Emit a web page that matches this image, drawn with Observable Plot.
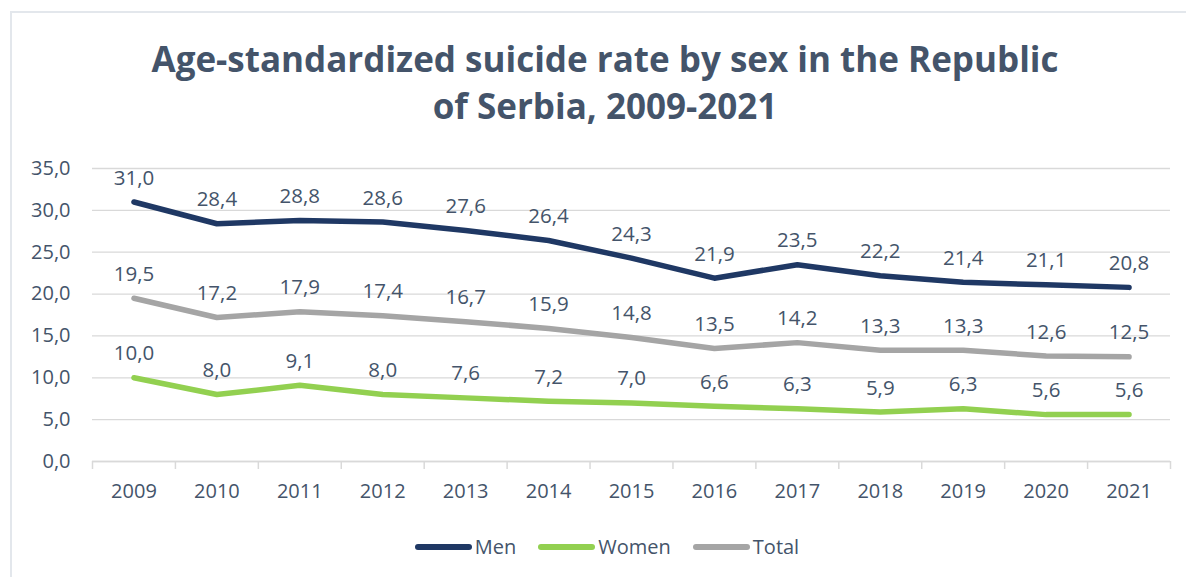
<!DOCTYPE html>
<html>
<head>
<meta charset="utf-8">
<script src="https://cdn.jsdelivr.net/npm/d3@7"></script>
<script src="https://cdn.jsdelivr.net/npm/@observablehq/plot@0.6"></script>
<style>
  html, body { margin: 0; padding: 0; background: #fff; }
  body { width: 1186px; height: 577px; position: relative; overflow: hidden; font-family: "Open Sans", sans-serif; color: #44546a; }
  #frame { position: absolute; left: 10px; top: 11px; width: 1200px; height: 600px; border-left: 2px solid #e3e7ec; border-top: 2px solid #e3e7ec; }
  #title { position: absolute; left: 0; top: 35px; width: 1210px; text-align: center; font-weight: 700; font-size: 35px; line-height: 47px; color: #44546a; }
  #chart { position: absolute; left: 0; top: 140px; }
  #legend { position: absolute; top: 533px; left: 0; width: 1214px; display: flex; justify-content: center; gap: 22px; font-size: 20px; }
  .item { display: flex; align-items: center; }
  .sw { width: 57px; height: 6px; border-radius: 3px; margin-right: 3px; }
</style>
</head>
<body>
<div id="frame"></div>
<div id="title">Age-standardized suicide rate by sex in the Republic<br>of Serbia, 2009-2021</div>
<div id="chart"></div>
<div id="legend"></div>
<script>
const years = [2009, 2010, 2011, 2012, 2013, 2014, 2015, 2016, 2017, 2018, 2019, 2020, 2021];
const men   = [31.0, 28.4, 28.8, 28.6, 27.6, 26.4, 24.3, 21.9, 23.5, 22.2, 21.4, 21.1, 20.8];
const women = [10.0, 8.0, 9.1, 8.0, 7.6, 7.2, 7.0, 6.6, 6.3, 5.9, 6.3, 5.6, 5.6];
const total = [19.5, 17.2, 17.9, 17.4, 16.7, 15.9, 14.8, 13.5, 14.2, 13.3, 13.3, 12.6, 12.5];
const seriesNames = ["Men", "Women", "Total"];
const seriesColors = ["#1f3864", "#92d050", "#a5a5a5"];
const yTicks = [0, 5, 10, 15, 20, 25, 30, 35];

const seriesValues = [men, women, total];
const data = [];
seriesNames.forEach((name, i) => {
  years.forEach((yr, j) => data.push({series: name, year: yr, value: seriesValues[i][j]}));
});
const fmt = v => v.toFixed(1).replace(".", ",");
const boundaries = years.map(y => y - 0.5).concat([years[years.length - 1] + 0.5]);

const chart = Plot.plot({
  width: 1186,
  height: 372,
  marginLeft: 92,
  marginRight: 16,
  marginTop: 28,
  marginBottom: 51,
  style: {fontFamily: "Open Sans, sans-serif", fontSize: "20px", color: "#44546a", background: "transparent"},
  x: {type: "linear", domain: [years[0] - 0.5, years[years.length - 1] + 0.5], label: null},
  y: {domain: [0, 35], label: null},
  color: {domain: seriesNames, range: seriesColors},
  marks: [
    Plot.gridY(yTicks, {stroke: "#d9d9d9", strokeOpacity: 1, strokeWidth: 1.3}),
    Plot.ruleY([0], {stroke: "#d9d9d9", strokeWidth: 1.5}),
    Plot.axisX(boundaries, {tickSize: 8, tickFormat: () => "", stroke: "#d9d9d9", strokeWidth: 1.5, label: null}),
    Plot.axisX(years, {tickSize: 0, tickPadding: 22, tickFormat: d => String(d), fill: "#44546a", fontSize: 20, label: null}),
    Plot.axisY(yTicks, {tickSize: 0, tickPadding: 22, tickFormat: fmt, fill: "#44546a", fontSize: 20, label: null}),
    Plot.line(data, {x: "year", y: "value", z: "series", stroke: "series", strokeWidth: 5.5, strokeLinecap: "round", strokeLinejoin: "round"}),
    Plot.text(data, {x: "year", y: "value", text: d => fmt(d.value), dy: -24, fill: "#44546a", fontSize: 20.5})
  ]
});
document.getElementById("chart").appendChild(chart);

const legend = document.getElementById("legend");
seriesNames.forEach((name, i) => {
  const it = document.createElement("div");
  it.className = "item";
  const sw = document.createElement("div");
  sw.className = "sw";
  sw.style.background = seriesColors[i];
  const t = document.createElement("span");
  t.textContent = name;
  it.appendChild(sw); it.appendChild(t);
  legend.appendChild(it);
});
</script>
</body>
</html>
